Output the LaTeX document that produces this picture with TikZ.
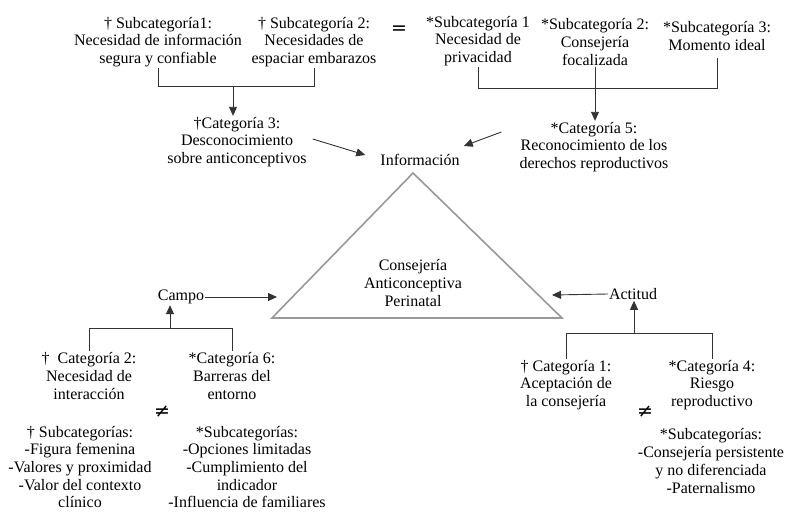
\documentclass[tikz,border=0pt]{standalone}
\usepackage{fontspec}
\setmainfont{Liberation Serif}
\newfontfamily\symfont{DejaVu Sans}
\usetikzlibrary{arrows.meta}
\begin{document}
\begin{tikzpicture}[x=1pt,y=-1pt,
  txt/.style={font=\fontsize{16}{17.7}\selectfont,align=center,inner sep=1pt,text=black},
  sym/.style={font=\symfont\fontsize{19}{20}\selectfont,inner sep=1pt,text=black},
  link/.style={draw=black!80,line width=0.9pt},
  arr/.style={link,-{Triangle[length=9pt,width=8pt]}},
  tri/.style={draw=black!40,line width=1.6pt,line join=miter}]
\useasboundingbox[fill=white] (0,0) rectangle (800,516);
% top left
\node[txt] (s1) at (158,42) {† Subcategoría1:\\Necesidad de información\\segura y confiable};
\node[txt] (s2) at (314,42) {† Subcategoría 2:\\Necesidades de\\espaciar embarazos};
\node[sym] (eq) at (399,30) {=};
% top right
\node[txt] (s3) at (478,41) {*Subcategoría 1\\Necesidad de\\privacidad};
\node[txt] (s4) at (595,42) {*Subcategoría 2:\\Consejería\\focalizada};
\node[txt] (s5) at (717,36) {*Subcategoría 3:\\Momento ideal};
% categories top
\node[txt] (c3) at (237,142) {†Categoría 3:\\Desconocimiento\\sobre anticonceptivos};
\node[txt] (info) at (420,160) {Información};
\node[txt] (c5) at (594,147) {*Categoría 5:\\Reconocimiento de los\\derechos reproductivos};
% triangle
\coordinate (ta) at (413,173);
\coordinate (tl) at (272,318);
\coordinate (tr) at (562,318);
\draw[tri] (ta) -- (tl) -- (tr) -- cycle;
\node[txt] (cap) at (413,283) {Consejería\\Anticonceptiva\\Perinatal};
% sides
\node[txt] (campo) at (181,297) {Campo};
\node[txt] (actitud) at (633,294) {Actitud};
\coordinate (lt) at (277,297);
\coordinate (rt) at (552,295);
% bottom left
\node[txt] (c2) at (89,376) {†\ \ Categoría 2:\\Necesidad de\\interacción};
\node[txt] (c6) at (232,376) {*Categoría 6:\\Barreras del\\entorno};
\node[sym] (ne1) at (162,412) {≠};
\node[txt] (sl1) at (80,467) {† Subcategorías:\\-Figura femenina\\-Valores y proximidad\\-Valor del contexto\\clínico};
\node[txt] (sl2) at (247,467) {*Subcategorías:\\-Opciones limitadas\\-Cumplimiento del\\indicador\\-Influencia de familiares};
% bottom right
\node[txt] (c1) at (566,385) {† Categoría 1:\\Aceptación de\\la consejería};
\node[txt] (c4) at (712,385) {*Categoría 4:\\Riesgo\\reproductivo};
\node[sym] (ne2) at (645,412) {≠};
\node[txt] (sr) at (711,461) {*Subcategorías:\\-Consejería persistente\\y no diferenciada\\-Paternalismo};
% brackets top left
\coordinate (j1) at (233,86);
\draw[link] (s1.south) -- (s1.south |- j1) -- (s2.south |- j1) -- (s2.south);
\draw[arr] (j1) -- (j1 |- c3.north);
% brackets top right
\coordinate (j2) at (593,88);
\coordinate (s5b) at ([yshift=-6pt]s5.south);
\draw[link] (s3.south) -- (s3.south |- j2) -- (s5b |- j2) -- (s5b);
\draw[arr] (s4.south) -- (s4.south |- c5.north);
% arrows to Información
\draw[arr] ([xshift=5pt,yshift=3pt]c3.east) -- ([xshift=-14pt,yshift=5pt]info.west);
\draw[arr] ([xshift=-17pt,yshift=15pt]c5.west) -- ([xshift=3pt,yshift=14pt]info.east);
% side arrows
\draw[arr] (campo.east) -- (lt);
\draw[arr] (actitud.west) -- (rt);
% bottom brackets
\coordinate (jl) at (170,328);
\draw[link] (c2.north) -- (c2.north |- jl) -- (c6.north |- jl) -- (c6.north);
\draw[arr] (jl) -- (jl |- campo.south);
\coordinate (jr) at (634,333);
\draw[link] (c1.north) -- (c1.north |- jr) -- (c4.north |- jr) -- (c4.north);
\draw[arr] (jr) -- (jr |- actitud.south);
\end{tikzpicture}
\end{document}
